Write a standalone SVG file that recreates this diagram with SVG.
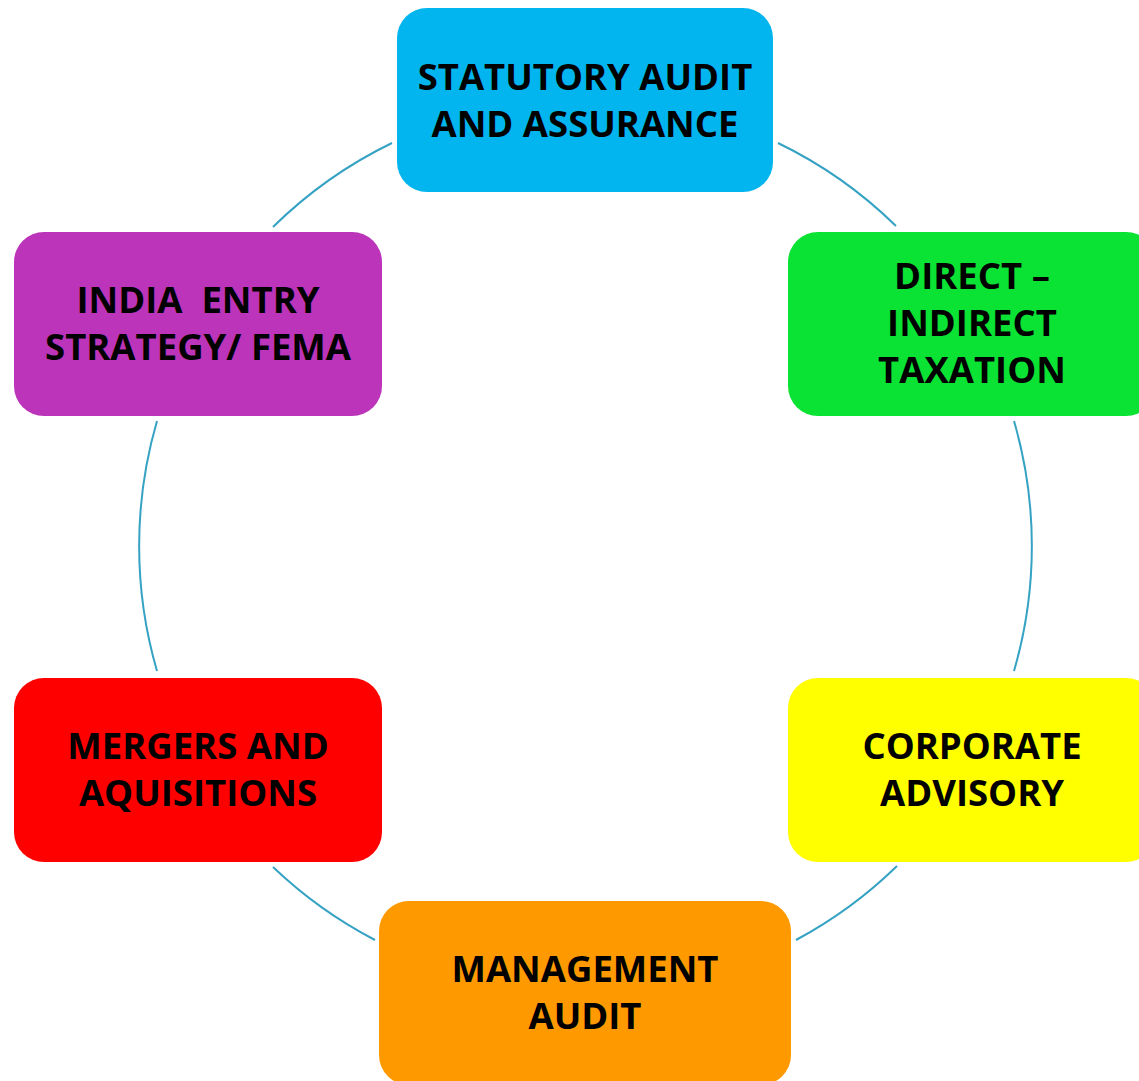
<svg xmlns="http://www.w3.org/2000/svg" width="1139" height="1081" viewBox="0 0 1139 1081">
<style>
.box{stroke:none}
.lbl{font-family:"Open Sans","Liberation Sans",sans-serif;font-weight:bold;font-size:36.5px;fill:#000;text-anchor:middle}
.arc{fill:none;stroke:#35A2C4;stroke-width:2}
</style>
<rect width="1139" height="1081" fill="#fff"/>
<g id="connectors">
<path class="arc" d="M273,227 A446.5,446.5 0 0 1 392,143"/>
<path class="arc" d="M778,143 A446.5,446.5 0 0 1 896,226"/>
<path class="arc" d="M1014,421 A446.5,446.5 0 0 1 1014,671"/>
<path class="arc" d="M897,866 A446.5,446.5 0 0 1 796,940"/>
<path class="arc" d="M375,940 A446.5,446.5 0 0 1 273,867"/>
<path class="arc" d="M157,671 A446.5,446.5 0 0 1 157,421"/>
</g>
<g id="n1">
<rect class="box" x="397" y="8" width="376" height="184" rx="30" fill="#03B5EF"/>
<text class="lbl" x="585" y="90">STATUTORY AUDIT</text>
<text class="lbl" x="585" y="137">AND ASSURANCE</text>
</g>
<g id="n2">
<rect class="box" x="788" y="232" width="368" height="184" rx="30" fill="#0AE234"/>
<text class="lbl" x="972" y="289">DIRECT –</text>
<text class="lbl" x="972" y="336">INDIRECT</text>
<text class="lbl" x="972" y="383">TAXATION</text>
</g>
<g id="n3">
<rect class="box" x="788" y="678" width="368" height="184" rx="30" fill="#FFFF00"/>
<text class="lbl" x="972" y="759">CORPORATE</text>
<text class="lbl" x="972" y="806">ADVISORY</text>
</g>
<g id="n4">
<rect class="box" x="379" y="901" width="412" height="184" rx="30" fill="#FF9900"/>
<text class="lbl" x="585" y="982">MANAGEMENT</text>
<text class="lbl" x="585" y="1029">AUDIT</text>
</g>
<g id="n5">
<rect class="box" x="14" y="678" width="368" height="184" rx="30" fill="#FF0000"/>
<text class="lbl" x="198" y="759">MERGERS AND</text>
<text class="lbl" x="198" y="806">AQUISITIONS</text>
</g>
<g id="n6">
<rect class="box" x="14" y="232" width="368" height="184" rx="30" fill="#BC34BA"/>
<text class="lbl" x="198" y="313" xml:space="preserve">INDIA  ENTRY</text>
<text class="lbl" x="198" y="360">STRATEGY/ FEMA</text>
</g>
</svg>
